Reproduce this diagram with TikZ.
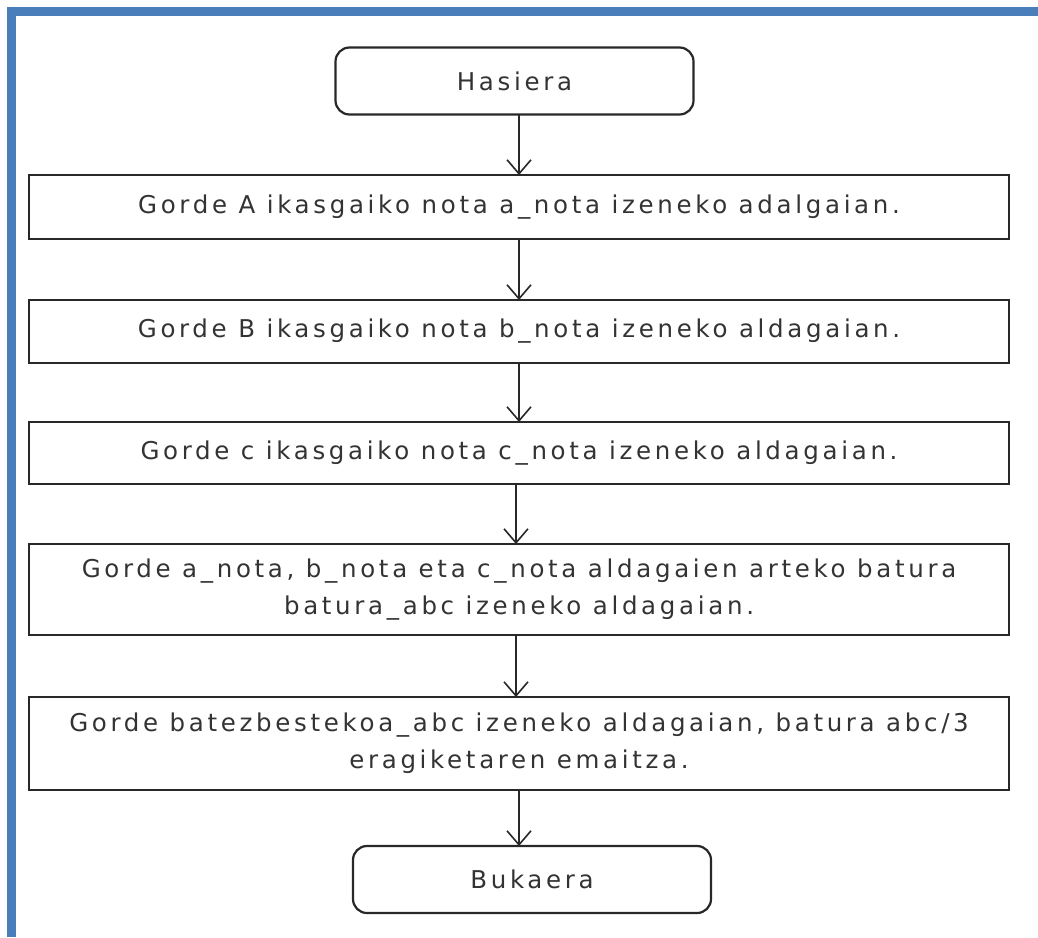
\documentclass[tikz,border=0pt]{standalone}
\usepackage{fontspec}
\setmainfont{DejaVu Sans}
\newfontfamily\boxfont{DejaVu Sans}[LetterSpace=15]
\usetikzlibrary{arrows.meta}
\definecolor{frameblue}{RGB}{74,126,187}
\definecolor{ink}{RGB}{51,51,51}
\definecolor{edge}{RGB}{40,40,40}
\begin{document}
\begin{tikzpicture}[x=1pt,y=-1pt,
  every node/.style={inner sep=0pt,outer sep=0pt,text=ink,
    font=\boxfont\fontsize{24.5}{37}\selectfont},
  stepbox/.style={draw=edge,line width=2.2pt,rectangle,minimum width=980pt,align=center},
  termbox/.style={draw=edge,line width=2.2pt,rectangle,rounded corners=14pt,minimum width=358pt,minimum height=67pt},
  arr/.style={draw=edge,line width=1.6pt,-{Straight Barb[length=14pt,width=24pt,line width=1.6pt]}}]
  \useasboundingbox (0,0) rectangle (1038,937);
  % blue page frame (top and left edges)
  \fill[frameblue] (7,7) rectangle (1038,16);
  \fill[frameblue] (7,7) rectangle (16,937);

  \node[termbox] (start) at (514.5,81) {Hasiera};
  \node[stepbox,minimum height=64pt] (s1) at (519,207) {Gorde A ikasgaiko nota a\_nota izeneko adalgaian.};
  \node[stepbox,minimum height=63pt] (s2) at (519,331.5) {Gorde B ikasgaiko nota b\_nota izeneko aldagaian.};
  \node[stepbox,minimum height=62pt] (s3) at (519,453) {Gorde c ikasgaiko nota c\_nota izeneko aldagaian.};
  \node[stepbox,minimum height=91pt] (s4) at (519,589.5) {Gorde a\_nota, b\_nota eta c\_nota aldagaien arteko batura\\batura\_abc izeneko aldagaian.};
  \node[stepbox,minimum height=93pt] (s5) at (519,743.5) {Gorde batezbestekoa\_abc izeneko aldagaian, batura abc/3\\eragiketaren emaitza.};
  \node[termbox] (end) at (532,879.5) {Bukaera};

  \draw[arr] (s1.north |- start.south) -- (s1.north);
  \draw[arr] (s1.south) -- (s2.north);
  \draw[arr] (s2.south) -- (s3.north);
  \draw[arr] ([xshift=-3pt]s3.south) -- ([xshift=-3pt]s4.north);
  \draw[arr] ([xshift=-3pt]s4.south) -- ([xshift=-3pt]s5.north);
  \draw[arr] (s5.south) -- (s5.south |- end.north);
\end{tikzpicture}
\end{document}
